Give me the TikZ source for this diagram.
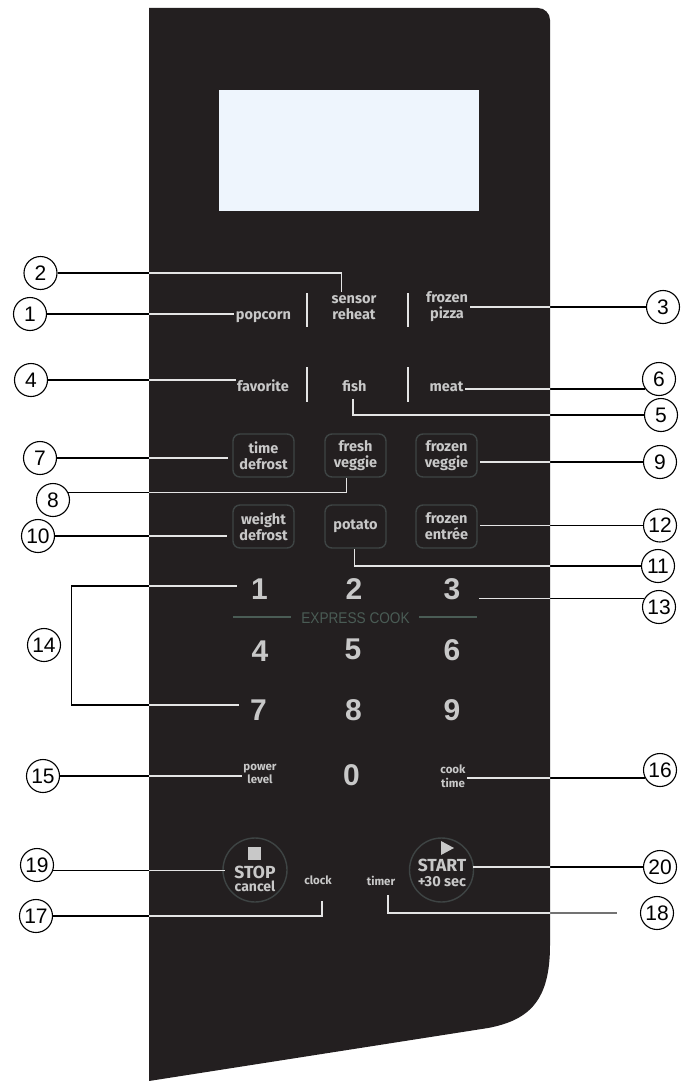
\documentclass[tikz,border=0pt]{standalone}
\usepackage{fontspec}
\setmainfont{Liberation Sans}
\newfontfamily\pfont{Fira Sans}
\definecolor{panel}{HTML}{231F20}
\definecolor{txt}{HTML}{C8C8C8}
\definecolor{btn}{HTML}{3E4444}
\definecolor{disp}{HTML}{EEF5FD}
\definecolor{expr}{HTML}{4A5C55}
\definecolor{leadin}{HTML}{E4E4E4}
\def\panelshape{(149,8) -- (538,8) arc[start angle=270,end angle=360,radius=12] -- (550,945) .. controls (550,1000) and (530,1020) .. (488,1028) -- (149,1081) -- cycle}
\newcommand\allleads{%
  \draw[lead] (c1.east) -- (c1.east -| popcorn.west);
  \draw[lead] (c2.east) -| ([xshift=-12.5pt,yshift=2pt]sensor.north);
  \draw[lead] (c3.west) -- (c3.west -| fp.east);
  \draw[lead] (c4.east) -- (c4.east -| fav.west);
  \draw[lead] ([xshift=-1.5pt,yshift=-6pt]fish.south) |- (c5.west);
  \draw[lead] (c6.216) -- (c6.216 -| meat.east);
  \draw[lead] (c7.east) -- ([xshift=-4pt]c7.east -| td.west);
  \draw[lead] (c8.25) -| ([xshift=-9pt]fv.south);
  \draw[lead] (c9.west) -- ([xshift=2pt]c9.west -| fzv.east);
  \draw[lead] (c10.east) -- ([xshift=-5pt]c10.east -| wd.west);
  \draw[lead] ([xshift=-1pt]po.south) |- (c11.west);
  \draw[lead] (c12.west) -- ([xshift=2pt]c12.west -| fe.east);
  \draw[lead] (c13.150) -- ([xshift=18pt]c13.150 -| k3.east);
  \draw[lead] (t14) -| ([xshift=10pt]c14.east) |- (b14);
  \draw[lead] (c15.east) -- (c15.east -| pl.west);
  \draw[lead] (c16.208) -- (c16.208 -| ct.east);
  \draw[lead] (k17) |- (c17.east);
  \draw[leadgray] (k18) |- ([xshift=-23pt]c18.west);
  \draw[lead] (c19.340) -- ([xshift=3pt]c19.340 -| stop.west);
  \draw[lead] (c20.west) -- ([xshift=-1pt]c20.west -| start.east);
}
\begin{document}
\begin{tikzpicture}[x=1pt,y=-1pt,
 num/.style={circle, draw=black, line width=1.1pt, minimum size=33pt, inner sep=0pt, font=\fontsize{21}{21}\selectfont},
 lbl/.style={text=txt, font=\pfont\bfseries\fontsize{14.5}{16}\selectfont, align=center, inner sep=1.5pt},
 small/.style={lbl, font=\pfont\bfseries\fontsize{11.5}{13.5}\selectfont},
 key/.style={text=txt, font=\bfseries\fontsize{30}{30}\selectfont, inner sep=0pt, anchor=base},
 btnbox/.style={lbl, draw=btn, line width=1.4pt, rounded corners=7pt, minimum width=61pt, minimum height=43pt},
 roundbtn/.style={circle, draw=btn, line width=1.4pt, minimum size=64pt, inner sep=0pt},
 sepline/.style={draw=leadin, line width=1.6pt},
 exline/.style={draw=expr, line width=2.5pt},
 lead/.style={draw=black, line width=1.1pt},
 leadgray/.style={draw=black!55, line width=1.1pt},
]
\useasboundingbox (0,0) rectangle (681,1081);
\fill[panel] \panelshape;
\fill[disp] (219,90) rectangle (479,211);

% row labels
\node[lbl, anchor=base] (popcorn) at (263.5,319) {popcorn};
\node[lbl] (sensor) at (354,308) {sensor\\reheat};
\node[lbl] (fp) at (447,307) {frozen\\pizza};
\node[lbl, anchor=base] (fav) at (263,391) {favorite};
\node[lbl, anchor=base] (fish) at (354.5,391) {fish};
\node[lbl, anchor=base] (meat) at (446.5,391) {meat};
\draw[sepline] (307,293) -- (307,327);
\draw[sepline] (408,293) -- (408,327);
\draw[sepline] (307,367) -- (307,402);
\draw[sepline] (408,367) -- (408,402);

% buttons
\node[btnbox] (td) at (263.5,455.5) {time\\defrost};
\node[btnbox] (fv) at (355.5,455.5) {fresh\\veggie};
\node[btnbox] (fzv) at (446.5,455.5) {frozen\\veggie};
\node[btnbox] (wd) at (263.5,526.5) {weight\\defrost};
\node[btnbox] (po) at (355.5,526.5) {potato};
\node[btnbox] (fe) at (446.5,526.5) {frozen\\entrée};

% keypad
\node[key] (k1) at (259.5,599) {1};
\node[key] (k2) at (354,599) {2};
\node[key] (k3) at (452,599) {3};
\node[key] (k4) at (260,661) {4};
\node[key] (k5) at (353,659) {5};
\node[key] (k6) at (452,660) {6};
\node[key] (k7) at (258.5,720) {7};
\node[key] (k8) at (353.5,720) {8};
\node[key] (k9) at (452,720) {9};
\node[key] (k0) at (351.5,785) {0};
\node[text=expr, font=\fontsize{15.5}{15.5}\selectfont, anchor=base, inner sep=0pt] (ec) at (355.5,623) {\scalebox{0.88}[1]{EXPRESS COOK}};
\draw[exline] (233,617) -- (291,617);
\draw[exline] (419,617) -- (477,617);

\node[small] (pl) at (260,774) {power\\level};
\node[small] (ct) at (453,776) {cook\\time};

% stop / start
\node[roundbtn] (stop) at (255,870) {};
\fill[txt] (247.5,847) rectangle (260.5,860);
\node[text=txt, font=\pfont\bfseries\fontsize{17.5}{17.5}\selectfont, anchor=base, inner sep=0pt] (stoptxt) at (255,878) {STOP};
\node[text=txt, font=\pfont\bfseries\fontsize{14}{14}\selectfont, anchor=base, inner sep=0pt] (canceltxt) at (255,891.5) {cancel};
\node[roundbtn] (start) at (441.5,870) {};
\fill[txt] (441,841) -- (441,855) -- (454,848) -- cycle;
\node[text=txt, font=\pfont\bfseries\fontsize{17.5}{17.5}\selectfont, anchor=base, inner sep=0pt] (starttxt) at (442,871.5) {START};
\node[text=txt, font=\pfont\bfseries\fontsize{14.5}{14.5}\selectfont, anchor=base, inner sep=0pt] (sectxt) at (442,886.5) {+30 sec};
\node[small, anchor=base] (clk) at (318,884.5) {clock};
\node[small, anchor=base] (tmr) at (381,885) {timer};

% callout circles
\node[num] (c1) at (30,314) {1};
\node[num] (c2) at (40.5,273) {2};
\node[num] (c3) at (663,307) {3};
\node[num] (c4) at (31,380) {4};
\node[num] (c5) at (661,415) {5};
\node[num] (c6) at (659,379) {6};
\node[num] (c7) at (40,458) {7};
\node[num] (c8) at (53,500) {8};
\node[num] (c9) at (660,462) {9};
\node[num] (c10) at (38,536) {10};
\node[num] (c11) at (658,566) {11};
\node[num] (c12) at (660,525.5) {12};
\node[num] (c13) at (659,607) {13};
\node[num] (c14) at (44,645) {14};
\node[num] (c15) at (43,776) {15};
\node[num] (c16) at (660,770) {16};
\node[num] (c17) at (36,916) {17};
\node[num] (c18) at (657,913) {18};
\node[num] (c19) at (37,865) {19};
\node[num] (c20) at (660,867) {20};

\coordinate (t14) at (237,586);
\coordinate (b14) at (238.5,705);
\coordinate (k17) at (322,901);
\coordinate (k18) at (388,895);

\allleads
\begin{scope}
  \clip \panelshape;
  \tikzset{lead/.style={draw=leadin, line width=1.1pt}, leadgray/.style={draw=leadin, line width=1.1pt}}
  \allleads
\end{scope}
\end{tikzpicture}
\end{document}
